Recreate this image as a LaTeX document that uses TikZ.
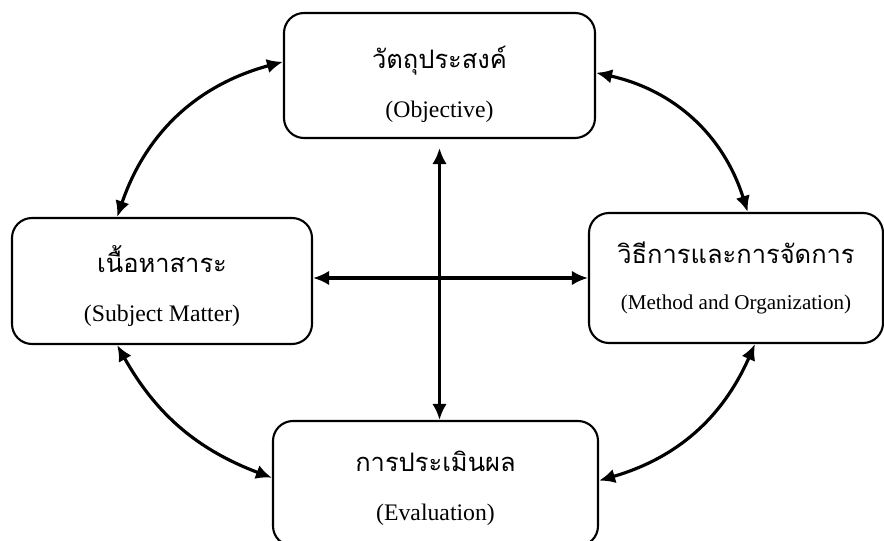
\documentclass[tikz,border=0pt]{standalone}
\usepackage{fontspec}
\setmainfont{Liberation Serif}
\newfontfamily\thaifont[Script=Thai]{Loma}
\usetikzlibrary{arrows.meta}

\begin{document}
\begin{tikzpicture}[
    box/.style={draw,line width=1.2pt,rounded corners=0.4cm},
    lbl/.style={align=center,inner sep=0pt,font=\fontsize{13.5}{16}\selectfont},
    conn/.style={{Latex[length=3.2mm,width=2.9mm]}-{Latex[length=3.2mm,width=2.9mm]},line width=1.8pt}
]
                \useasboundingbox (0,0) rectangle (17.68,10.8);
                % four boxes
                \node[box,minimum width=6.22cm,minimum height=2.5cm] (obj) at (8.79,9.29){};
                \node[box,minimum width=6.0cm,minimum height=2.52cm] (cont) at (3.24,5.18){};
                \node[box,minimum width=5.88cm,minimum height=2.6cm] (meth) at (14.72,5.24){};
                \node[box,minimum width=6.5cm,minimum height=2.5cm] (eval) at (8.71,1.13){};
                % texts
                \node[lbl] (objtxt) at ([yshift=-0.17cm]obj.center)
                    {{\thaifont\fontsize{14.5}{16}\selectfont วัตถุประสงค์}\\[12pt](Objective)};
                \node[lbl] (conttxt) at ([yshift=-0.1cm]cont.center)
                    {{\thaifont\fontsize{14.5}{16}\selectfont เนื้อหาสาระ}\\[12pt](Subject Matter)};
                \node[lbl] (methtxt) at (meth.center)
                    {{\thaifont\fontsize{14.5}{16}\selectfont วิธีการและการจัดการ}\\[10pt]{\fontsize{12}{14}\selectfont (Method and Organization)}};
                \node[lbl] (evaltxt) at ([yshift=-0.1cm]eval.center)
                    {{\thaifont\fontsize{14.5}{16}\selectfont การประเมินผล}\\[12pt](Evaluation)};
                % links
                \draw[conn](obj.175) to[bend right=28] (cont.125);
                \draw[conn](obj.1) to[bend left=30] (meth.80);
                \draw[conn](cont.235) to[bend right=20] (eval.178);
                \draw[conn](meth.-74) to[bend left=25] (eval.1);
                \draw[conn]([yshift=-0.18cm]obj.south)--(obj.south |- eval.north);
                \draw[conn](cont.east |- meth.west)--(meth.west);
\end{tikzpicture}
\end{document}
